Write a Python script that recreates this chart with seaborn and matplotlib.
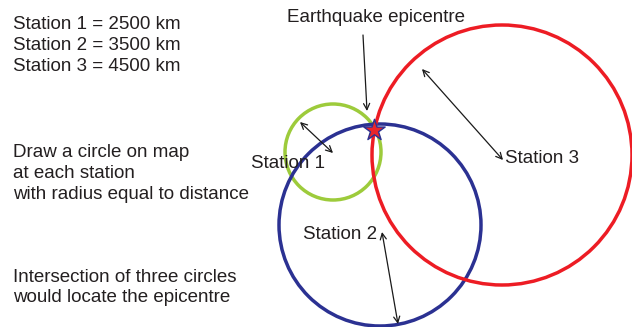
import numpy as np
import matplotlib
matplotlib.use("Agg")
import matplotlib.pyplot as plt
from matplotlib.patches import Circle
import seaborn as sns

# ==========================================
# DATA
# ==========================================

station_names = ["Station 1", "Station 2", "Station 3"]
distances_km = [2500, 3500, 4500]

# diagram is not to scale: circle centres / radii in drawing units (px)
centre_x = [333, 380, 502]
centre_y = [152, 225, 155]
radius_px = [48, 101, 130]
circle_colors = ["#9DCB3B", "#2B3192", "#ED1C24"]

epicentre_xy = (374, 130)

# ==========================================
# FIGURE
# ==========================================

sns.set_theme(style="white")
plt.rcParams["font.family"] = ["Liberation Sans", "DejaVu Sans"]

fig = plt.figure(figsize=(6.32, 3.27), dpi=100)
ax = fig.add_axes([0, 0, 1, 1])
ax.set_xlim(0, 632)
ax.set_ylim(327, 0)
ax.set_aspect("equal")
ax.axis("off")

for cx, cy, r, col in zip(centre_x, centre_y, radius_px, circle_colors):
    ax.add_patch(Circle((cx, cy), r, fill=False, ec=col, lw=2.5, zorder=2))

# radius arrows (double headed)
radius_arrows = [
    ((300, 122), (333, 153)),
    ((382, 232), (398, 324)),
    ((422, 69), (503, 160)),
]
for p0, p1 in radius_arrows:
    ax.annotate("", xy=p1, xytext=p0,
                arrowprops=dict(arrowstyle="<->", color="#1a1a1a", lw=0.9,
                                shrinkA=0, shrinkB=0,
                                mutation_scale=11),
                zorder=3)

# epicentre pointer
ax.annotate("", xy=(367, 111), xytext=(363, 35),
            arrowprops=dict(arrowstyle="->", color="#1a1a1a", lw=0.9,
                            shrinkA=0, shrinkB=0, mutation_scale=11),
            zorder=3)

sns.scatterplot(x=[epicentre_xy[0]], y=[epicentre_xy[1]], marker="*",
                s=260, color="#E8252B", edgecolor="#2B3192", linewidth=1.0,
                ax=ax, zorder=5, legend=False)

# ==========================================
# TEXT
# ==========================================

fs = 13.5
txt_col = "#231F20"

ax.text(376, 22, "Earthquake epicentre", ha="center", va="baseline",
        fontsize=fs, color=txt_col)

label_pos = [(251, 168), (303, 239), (505, 163)]
for name, (lx, ly) in zip(station_names, label_pos):
    ax.text(lx, ly, name, ha="left", va="baseline", fontsize=fs, color=txt_col)

dist_lines = [f"{n} = {d} km" for n, d in zip(station_names, distances_km)]
for line, by in zip(dist_lines, [29, 50, 71]):
    ax.text(13, by, line, ha="left", va="baseline", fontsize=fs, color=txt_col)

draw_lines = ["Draw a circle on map", "at each station",
              "with radius equal to distance"]
for line, by in zip(draw_lines, [157, 178, 199]):
    ax.text(13, by, line, ha="left", va="baseline", fontsize=fs, color=txt_col)

inter_lines = ["Intersection of three circles", "would locate the epicentre"]
for line, by in zip(inter_lines, [282, 302]):
    ax.text(13, by, line, ha="left", va="baseline", fontsize=fs, color=txt_col)

fig.savefig("out.png", dpi=100)
